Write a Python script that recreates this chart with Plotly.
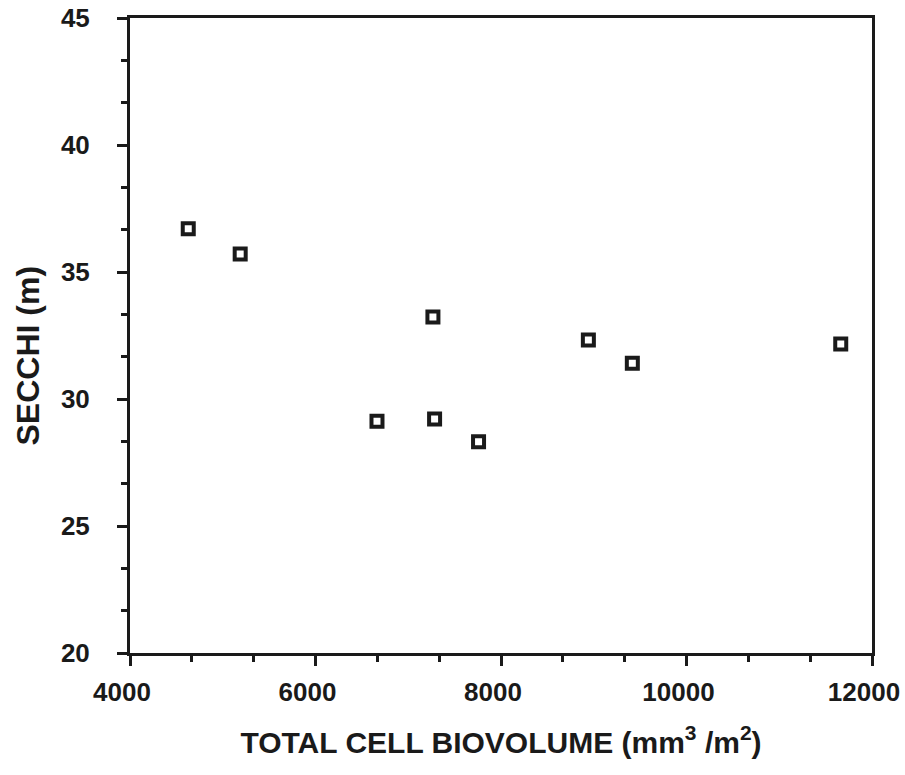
import plotly.graph_objects as go

# Data
biovolume = [4628, 5188, 6663, 7266, 7284, 7758, 8942, 9416, 11663]
secchi = [36.70, 35.71, 29.12, 33.23, 29.21, 28.32, 32.32, 31.41, 32.17]

x_tickvals = [4000, 6000, 8000, 10000, 12000]
x_ticktext = ["4000", "6000", "8000", "10000", "12000"]
y_tickvals = [20, 25, 30, 35, 40, 45]
y_ticktext = ["20", "25", "30", "35", "40", "45"]

ink = "#1a1a1a"
font_family = "Liberation Sans, Arial, sans-serif"

fig = go.Figure()
fig.add_trace(go.Scatter(
    x=biovolume, y=secchi, mode="markers",
    marker=dict(symbol="square-open", size=11, color=ink,
                line=dict(width=4, color=ink)),
    showlegend=False, hoverinfo="x+y",
))

axis_common = dict(
    showgrid=False, zeroline=False, automargin=False,
    showline=True, linewidth=3, linecolor=ink, mirror=True,
    ticks="outside", ticklen=10, tickwidth=3, tickcolor=ink,
    ticklabeloverflow="allow",
    tickfont=dict(family=font_family, size=26, color=ink, weight="bold"),
)

fig.update_xaxes(
    range=[4000, 12000], tickvals=x_tickvals, ticktext=x_ticktext,
    ticklabelshift=-8, ticklabelstandoff=4,
    minor=dict(dtick=2000 / 3, tick0=4000, ticks="outside", ticklen=6,
               tickwidth=3, tickcolor=ink, showgrid=False),
    title=dict(text="TOTAL CELL BIOVOLUME (mm<sup>3</sup> /m<sup>2</sup>)",
               font=dict(family=font_family, size=30, color=ink, weight="bold"),
               standoff=26),
    **axis_common,
)
fig.update_yaxes(
    range=[20, 45], tickvals=y_tickvals, ticktext=y_ticktext,
    ticklabelstandoff=22,
    minor=dict(dtick=5 / 3, tick0=20, ticks="outside", ticklen=6,
               tickwidth=3, tickcolor=ink, showgrid=False),
    **axis_common,
)

fig.add_annotation(
    text="SECCHI (m)", textangle=-90,
    xref="paper", yref="paper", x=0, y=0.5,
    xanchor="center", yanchor="middle", xshift=-103, yshift=-20,
    showarrow=False,
    font=dict(family=font_family, size=32, color=ink, weight="bold"),
)

fig.update_layout(
    width=905, height=775,
    margin=dict(l=130, r=33, t=18, b=122),
    paper_bgcolor="white", plot_bgcolor="white",
    font=dict(family=font_family, color=ink),
)

fig.write_html("out.html")
